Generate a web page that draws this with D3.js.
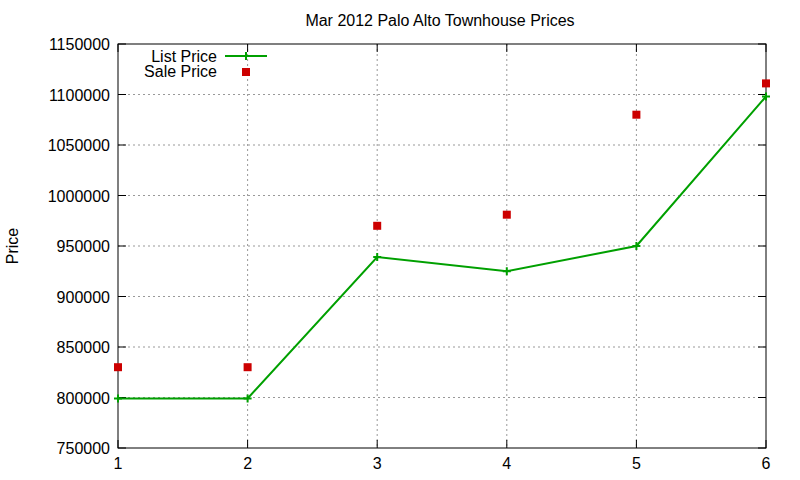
<!DOCTYPE html>
<html><head><meta charset="utf-8">
<script src="https://cdn.jsdelivr.net/npm/d3@7.9.0/dist/d3.min.js"></script>
<style>body{margin:0;background:#fff}svg{font-family:"Liberation Sans",Arial,sans-serif}</style>
</head><body><svg width="800" height="480"></svg>
<script>
const xs = [1, 2, 3, 4, 5, 6];
const listPrice = [799000, 799000, 939000, 925000, 950000, 1098000];
const salePrice = [830000, 830000, 970000, 981000, 1080000, 1111000];
const yTicks = [750000, 800000, 850000, 900000, 950000, 1000000, 1050000, 1100000, 1150000];

const svg = d3.select('svg');
const m = {l: 118, r: 766, t: 44, b: 448};
const x = d3.scaleLinear().domain([1, 6]).range([m.l, m.r]);
const y = d3.scaleLinear().domain([750000, 1150000]).range([m.b, m.t]);

// grid
svg.append('g').selectAll('line').data(xs.slice(1, -1)).join('line')
  .attr('x1', d => x(d)).attr('x2', d => x(d)).attr('y1', m.t).attr('y2', m.b)
  .attr('stroke', '#999').attr('stroke-dasharray', '2,3');
svg.append('g').selectAll('line').data(yTicks.slice(1, -1)).join('line')
  .attr('x1', m.l).attr('x2', m.r).attr('y1', d => y(d)).attr('y2', d => y(d))
  .attr('stroke', '#999').attr('stroke-dasharray', '2,3');

// frame
svg.append('rect').attr('x', m.l).attr('y', m.t).attr('width', m.r - m.l).attr('height', m.b - m.t)
  .attr('fill', 'none').attr('stroke', '#000');

// ticks (inward, mirrored)
const tk = svg.append('g').attr('stroke', '#000');
yTicks.forEach(v => {
  tk.append('line').attr('x1', m.l).attr('x2', m.l + 8).attr('y1', y(v)).attr('y2', y(v));
  tk.append('line').attr('x1', m.r).attr('x2', m.r - 8).attr('y1', y(v)).attr('y2', y(v));
});
xs.forEach(v => {
  tk.append('line').attr('x1', x(v)).attr('x2', x(v)).attr('y1', m.b).attr('y2', m.b - 8);
  tk.append('line').attr('x1', x(v)).attr('x2', x(v)).attr('y1', m.t).attr('y2', m.t + 8);
});

svg.append('g').selectAll('text').data(yTicks).join('text')
  .attr('x', m.l - 8).attr('y', d => y(d) + 6).attr('text-anchor', 'end')
  .attr('font-size', 16).text(d => d);
svg.append('g').selectAll('text').data(xs).join('text')
  .attr('x', d => x(d)).attr('y', m.b + 21).attr('text-anchor', 'middle')
  .attr('font-size', 16).text(d => d);

svg.append('text').attr('x', 440).attr('y', 26).attr('text-anchor', 'middle')
  .attr('font-size', 16).text('Mar 2012 Palo Alto Townhouse Prices');
svg.append('text').attr('transform', 'translate(18,246) rotate(-90)')
  .attr('text-anchor', 'middle').attr('font-size', 16).text('Price');

// list price line
const green = '#00a000';
svg.append('path').datum(xs.map((d, i) => [d, listPrice[i]]))
  .attr('d', d3.line().x(d => x(d[0])).y(d => y(d[1])))
  .attr('fill', 'none').attr('stroke', green).attr('stroke-width', 2);
const plus = (g, cx, cy) => {
  g.append('path').attr('d', `M${cx - 4},${cy}H${cx + 4}M${cx},${cy - 4}V${cy + 4}`)
    .attr('stroke', green).attr('stroke-width', 2);
};
xs.forEach((d, i) => plus(svg, x(d), y(listPrice[i])));

// sale price squares
svg.append('g').selectAll('rect').data(xs).join('rect')
  .attr('x', (d) => x(d) - 4).attr('y', (d, i) => y(salePrice[i]) - 4)
  .attr('width', 8).attr('height', 8).attr('fill', '#cc0000');

// legend
svg.append('text').attr('x', 217).attr('y', 62).attr('text-anchor', 'end').attr('font-size', 16).text('List Price');
svg.append('text').attr('x', 217).attr('y', 77).attr('text-anchor', 'end').attr('font-size', 16).text('Sale Price');
svg.append('line').attr('x1', 225).attr('x2', 267).attr('y1', 56).attr('y2', 56).attr('stroke', green).attr('stroke-width', 2);
plus(svg, 246, 56);
svg.append('rect').attr('x', 242).attr('y', 68).attr('width', 8).attr('height', 8).attr('fill', '#cc0000');
</script></body></html>
